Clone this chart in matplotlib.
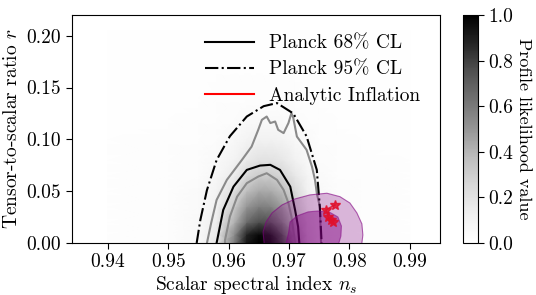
import numpy as np
import matplotlib
matplotlib.use("Agg")
import matplotlib.pyplot as plt

plt.rcParams['font.family'] = 'serif'
plt.rcParams['font.serif'] = ['cmr10']
plt.rcParams['mathtext.fontset'] = 'cm'
plt.rcParams['axes.formatter.use_mathtext'] = True

# profile likelihood image
ns_grid = [0.940, 0.950, 0.955, 0.958, 0.961, 0.963, 0.965, 0.967, 0.969, 0.971, 0.973, 0.975, 0.978, 0.982, 0.990]
r_grid = [0.0, 0.008, 0.02, 0.035, 0.05, 0.065, 0.08, 0.10, 0.12, 0.14, 0.17, 0.205]
like = [
    [.01, .02, .05, .18, .60, .92, 1.0, .97, .80, .50, .22, .07, .03, .02, .01],
    [.01, .02, .05, .16, .55, .88, .97, .93, .75, .45, .20, .07, .03, .02, .01],
    [.01, .02, .05, .14, .42, .66, .76, .74, .58, .37, .17, .06, .03, .02, .01],
    [.01, .02, .04, .11, .32, .50, .58, .57, .47, .31, .15, .06, .03, .02, .01],
    [.01, .02, .04, .09, .23, .37, .44, .43, .37, .25, .12, .05, .03, .02, .01],
    [.01, .02, .03, .07, .15, .25, .31, .31, .26, .17, .09, .04, .02, .02, .01],
    [.01, .02, .03, .05, .10, .16, .20, .20, .17, .11, .06, .03, .02, .02, .01],
    [.01, .02, .02, .03, .06, .09, .11, .11, .09, .06, .04, .02, .02, .01, .01],
    [.01, .01, .02, .02, .03, .04, .05, .05, .04, .03, .02, .02, .01, .01, .01],
    [.01, .01, .01, .02, .02, .02, .02, .02, .02, .02, .01, .01, .01, .01, .01],
    [.01, .01, .01, .01, .01, .01, .01, .01, .01, .01, .01, .01, .01, .01, .01],
    [.01, .01, .01, .01, .01, .01, .01, .01, .01, .01, .01, .01, .01, .01, .01],
]

# Planck contours
p68_ns = [0.9580, 0.9591, 0.9608, 0.9630, 0.9652, 0.9669, 0.9685, 0.9702, 0.9710, 0.9715, 0.9717]
p68_r = [0.0, 0.0319, 0.0544, 0.0705, 0.0747, 0.0754, 0.0705, 0.0544, 0.0319, 0.0157, 0.0]
p95_ns = [0.9547, 0.9553, 0.9564, 0.9580, 0.9602, 0.9630, 0.9658, 0.9680, 0.9707, 0.9729, 0.9746, 0.9751, 0.9754]
p95_r = [0.0, 0.022, 0.051, 0.080, 0.103, 0.122, 0.132, 0.135, 0.125, 0.103, 0.0705, 0.035, 0.0]

# profile likelihood contours (grey)
outer_ns = [0.9564, 0.9571, 0.9580, 0.9597, 0.9622, 0.9638, 0.9649, 0.9655, 0.9663, 0.9669, 0.9677,
            0.9682, 0.9691, 0.9699, 0.9704, 0.9707, 0.9713, 0.9729, 0.9738, 0.9743, 0.9746, 0.9751, 0.9752, 0.9753]
outer_r = [0.0, 0.0193, 0.0415, 0.0609, 0.0802, 0.0930, 0.1092, 0.1188, 0.1220, 0.1157, 0.1172,
           0.1092, 0.1060, 0.1157, 0.1253, 0.1208, 0.1027, 0.0899, 0.0737, 0.0609, 0.0480, 0.0351, 0.0174, 0.0]
inner_ns = [0.9594, 0.9594, 0.9602, 0.9614, 0.9630, 0.9649, 0.9663, 0.9680, 0.9691, 0.9699, 0.9704, 0.9707, 0.9710]
inner_r = [0.0, 0.0029, 0.0254, 0.0447, 0.0577, 0.0641, 0.0673, 0.0609, 0.0512, 0.0384, 0.0254, 0.0126, 0.0]

# analytic inflation regions
reg95_ns = [0.96587, 0.96570, 0.96620, 0.96719, 0.96884, 0.97099, 0.97347, 0.97628, 0.97843,
            0.98008, 0.98124, 0.98207, 0.98223, 0.98207]
reg95_r = [0.0, 0.0106, 0.0203, 0.0290, 0.0367, 0.0425, 0.0464, 0.0480, 0.0447,
           0.0386, 0.0290, 0.0184, 0.0077, 0.0]
reg68_ns = [0.96950, 0.96992, 0.97017, 0.97132, 0.97314, 0.97479, 0.97678, 0.97810, 0.97868, 0.97860, 0.97826]
reg68_r = [0.0, 0.0097, 0.0203, 0.0261, 0.0300, 0.0309, 0.0295, 0.0251, 0.0164, 0.0068, 0.0]

# analytic inflation points
star_ns = [0.9776, 0.9761, 0.9765, 0.9770, 0.9773]
star_r = [0.0367, 0.0319, 0.0251, 0.0222, 0.0203]

fig = plt.figure(figsize=(5.36, 2.95), dpi=100)
ax = fig.add_axes([0.1338, 0.1763, 0.687, 0.773])
cax = fig.add_axes([0.864, 0.1763, 0.028, 0.773])

X, Y = np.meshgrid(ns_grid, r_grid)
im = ax.pcolormesh(X, Y, np.array(like), cmap='Greys', vmin=0, vmax=1, shading='gouraud', zorder=0)

ax.plot(outer_ns, outer_r, color='#8a8a8a', lw=1.5, zorder=2)
ax.plot(inner_ns, inner_r, color='#8a8a8a', lw=1.5, zorder=2)
ax.plot(p68_ns, p68_r, color='k', lw=1.5, ls='-', label='Planck 68% CL', zorder=3)
ax.plot(p95_ns, p95_r, color='k', lw=1.5, ls='-.', label='Planck 95% CL', zorder=3)

ax.fill(reg95_ns, reg95_r, facecolor='purple', alpha=0.28, edgecolor='none', zorder=4)
ax.plot(reg95_ns, reg95_r, color='purple', lw=0.8, alpha=0.6, zorder=4)
ax.fill(reg68_ns, reg68_r, facecolor='purple', alpha=0.45, edgecolor='none', zorder=4)
ax.plot(reg68_ns, reg68_r, color='purple', lw=0.8, alpha=0.5, zorder=4)

ax.plot(star_ns, star_r, color='#e0102c', lw=1.2, marker='*', ms=7, alpha=0.85, zorder=5)
ax.plot([], [], color='red', lw=1.5, label='Analytic Inflation')

ax.set_xlim(0.934, 0.995)
ax.set_ylim(0, 0.22)
ax.set_xticks([0.94, 0.95, 0.96, 0.97, 0.98, 0.99])
ax.set_yticks([0.0, 0.05, 0.10, 0.15, 0.20])
ax.set_xticklabels(['0.94', '0.95', '0.96', '0.97', '0.98', '0.99'])
ax.set_yticklabels(['0.00', '0.05', '0.10', '0.15', '0.20'])
ax.tick_params(labelsize=14, direction='out', length=4)
ax.set_xlabel(r'Scalar spectral index $n_s$', fontsize=14, labelpad=2)
ax.set_ylabel(r'Tensor-to-scalar ratio $r$', fontsize=14, labelpad=4)

ax.legend(loc='upper right', frameon=False, fontsize=14, handlelength=2.5,
          borderaxespad=0.6, labelspacing=0.42, handletextpad=0.8)

cb = fig.colorbar(im, cax=cax)
cb.set_ticks([0.0, 0.2, 0.4, 0.6, 0.8, 1.0])
cb.set_ticklabels(['0.0', '0.2', '0.4', '0.6', '0.8', '1.0'])
cb.ax.tick_params(labelsize=14, length=4)
cb.set_label('Profile likelihood value', fontsize=13, rotation=270, labelpad=13)

fig.savefig('out.png', dpi=100)
